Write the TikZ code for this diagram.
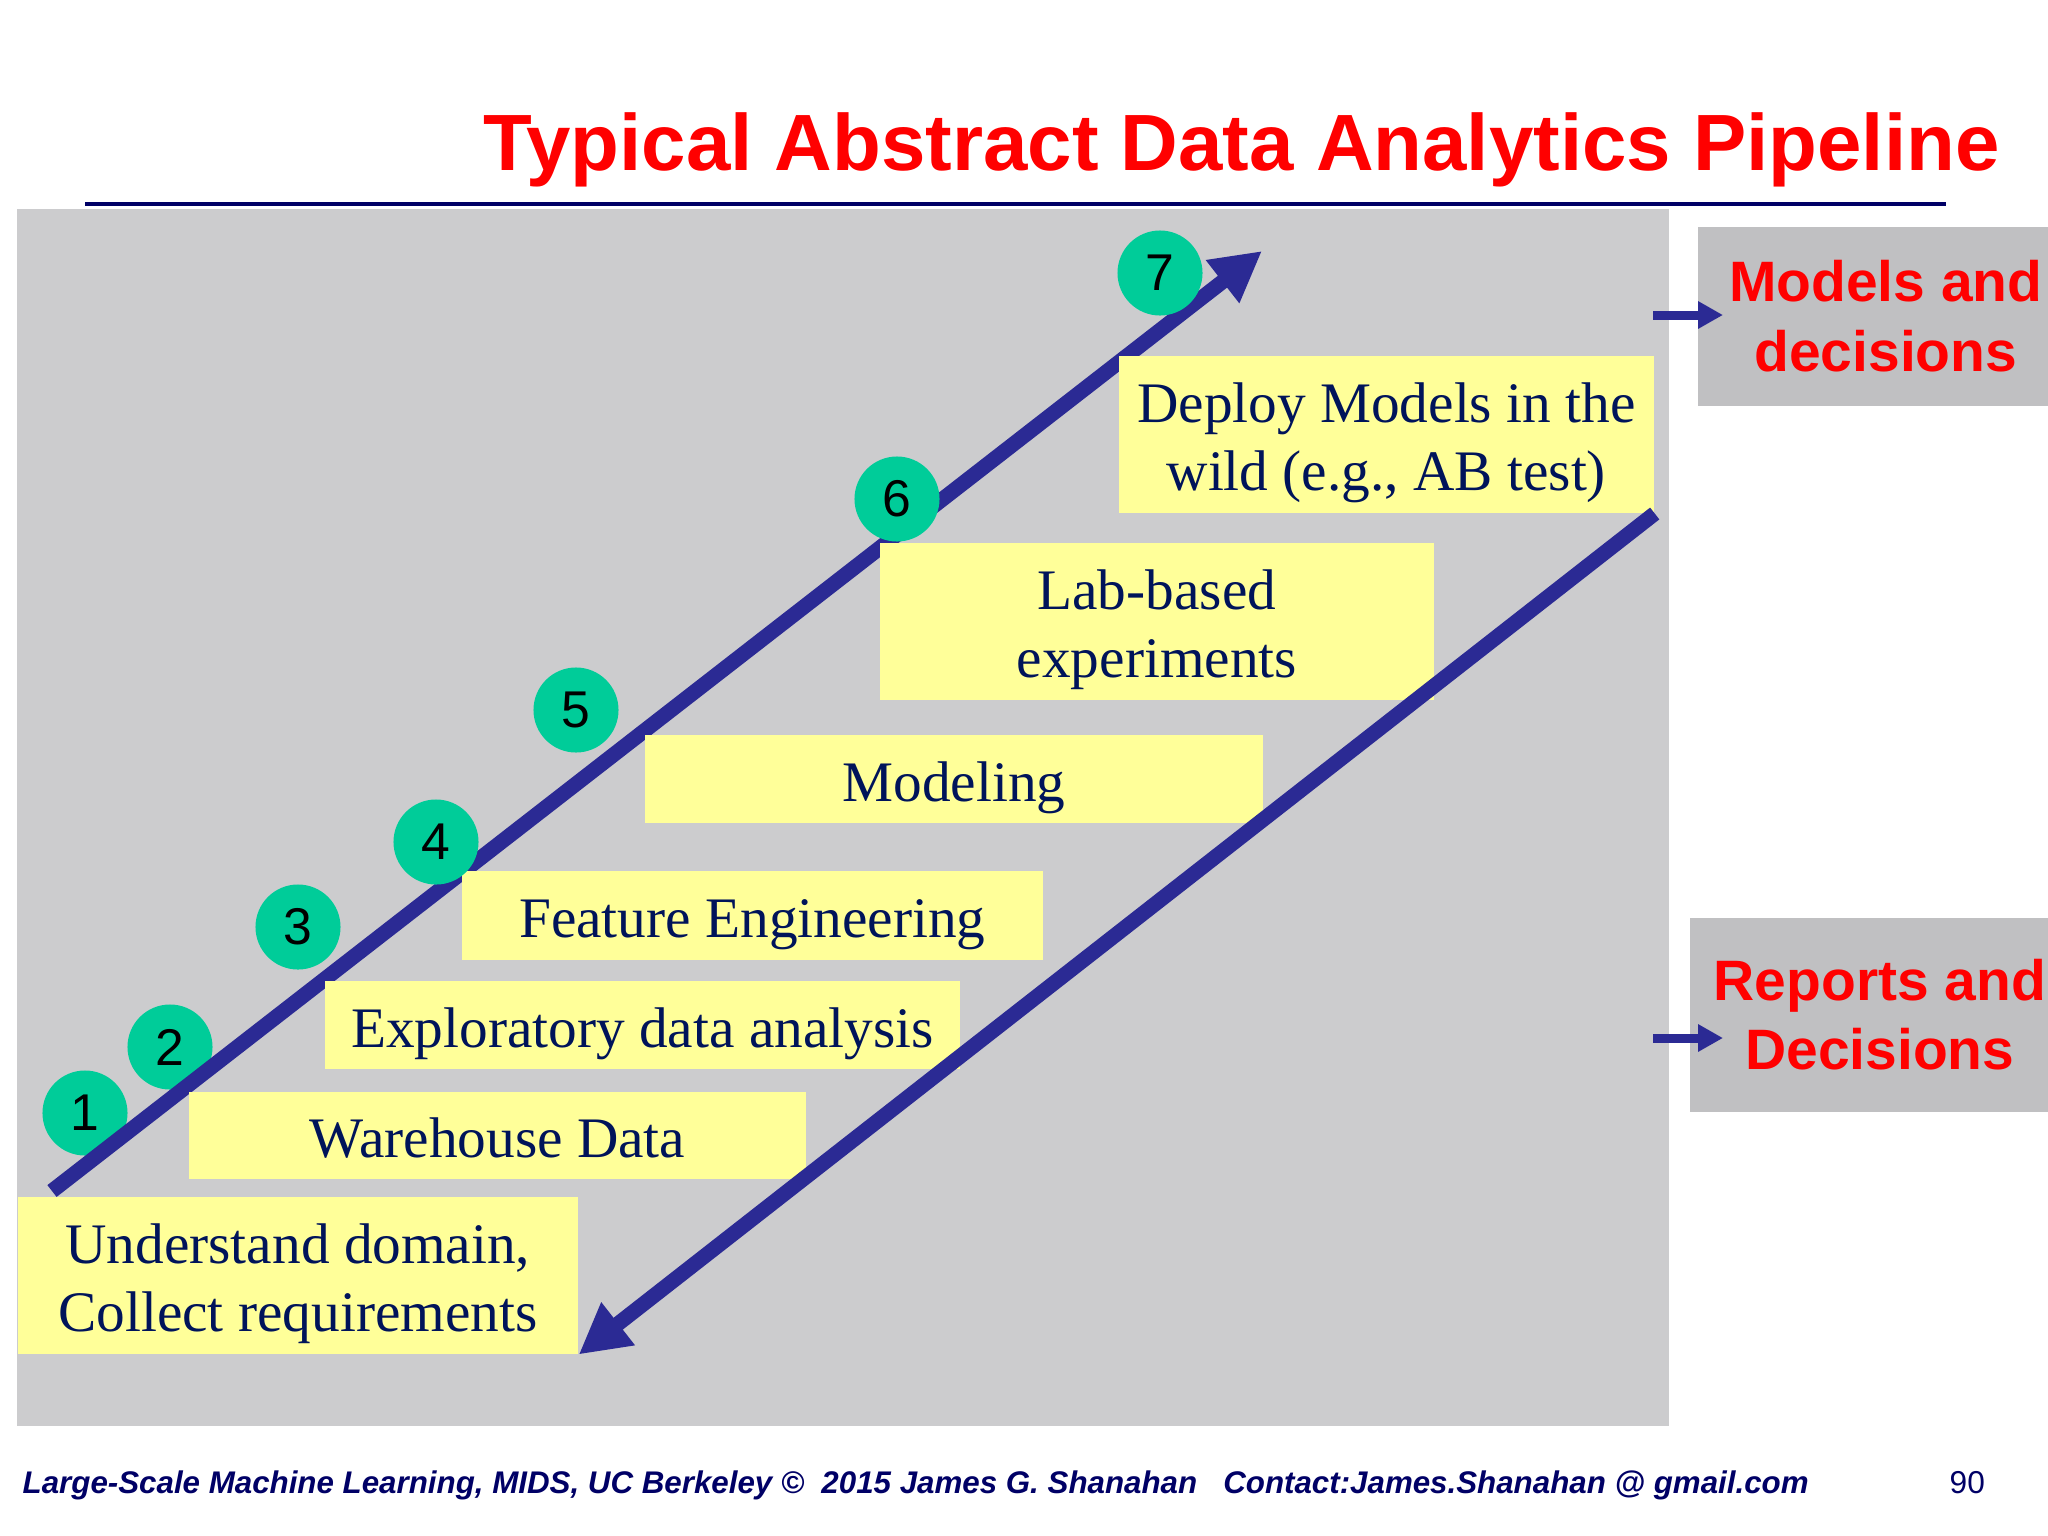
\documentclass[tikz,border=0pt]{standalone}
\usepackage{fontspec}
\setmainfont{Liberation Serif}
\newfontfamily\arialfont{Liberation Sans}
\usetikzlibrary{arrows.meta}
\definecolor{panelgray}{RGB}{204,204,206}
\definecolor{outgray}{RGB}{192,192,194}
\definecolor{stepyellow}{RGB}{255,255,153}
\definecolor{stepgreen}{RGB}{0,204,153}
\definecolor{flowblue}{RGB}{43,42,148}
\definecolor{textnavy}{RGB}{0,20,90}
\definecolor{footnavy}{RGB}{0,0,102}
\definecolor{titlered}{RGB}{255,0,0}
\newcommand{\steptext}[1]{\raisebox{-0.09cm}[\height][\depth]{\begin{tabular}{@{}c@{}}#1\end{tabular}}}

\begin{document}
\begin{tikzpicture}[x=0.01cm,y=-0.01cm]
            \tikzstyle{stepbox}=[fill=stepyellow, text=textnavy, anchor=north west, inner sep=0pt, font=\fontsize{16.3}{19.3}\selectfont]
            \tikzstyle{stepnum}=[circle, fill=stepgreen, minimum size=0.85cm, inner sep=0pt, font=\arialfont\fontsize{14.7}{16}\selectfont]
            \tikzstyle{flow}=[draw=flowblue, line width=0.15cm, -{Triangle[length=0.5cm,width=0.51cm]}]
            \tikzstyle{outbox}=[fill=outgray, text=titlered, anchor=north west, inner sep=0pt, align=center, font=\arialfont\bfseries\fontsize{16.2}{19.7}\selectfont]
            \tikzstyle{outarrow}=[draw=flowblue, line width=0.09cm, -{Triangle[length=0.25cm,width=0.26cm]}]
            \useasboundingbox (0,0) rectangle (2048,1536);
            \fill[white] (0,0) rectangle (2048,1536);
            \node[anchor=base west, inner sep=0pt, text=titlered, font=\arialfont\bfseries\fontsize{22.7}{27}\selectfont] (title) at (483,170) {Typical Abstract Data Analytics Pipeline};
            \draw[footnavy, line width=0.04cm] (85,204) -- (1946,204);
            \fill[panelgray] (17,209) rectangle (1669,1426);
            \node[stepnum] (n1) at (85,1113) {1};
            \node[stepnum] (n2) at (170,1047) {2};
            \coordinate (upstart) at (52,1191);
            \coordinate (uptip) at (1262,251);
            \draw[flow] (upstart) -- (uptip);
            \node[stepbox, minimum width=5.60cm, minimum height=1.57cm] (understand) at (17,1196) {\steptext{Understand domain,\\Collect requirements}};
            \node[stepbox, minimum width=6.17cm, minimum height=0.87cm] (warehouse) at (188,1091) {\steptext{Warehouse Data}};
            \node[stepbox, minimum width=6.35cm, minimum height=0.88cm] (explore) at (324,980) {\steptext{Exploratory data analysis}};
            \node[stepbox, minimum width=5.81cm, minimum height=0.89cm] (feature) at (461,870) {\steptext{Feature Engineering}};
            \node[stepbox, minimum width=6.18cm, minimum height=0.88cm] (modeling) at (644,734) {\steptext{Modeling}};
            \node[stepbox, minimum width=5.54cm, minimum height=1.57cm] (lab) at (879,542) {\steptext{Lab-based\\experiments}};
            \node[stepbox, minimum width=5.35cm, minimum height=1.57cm] (deploy) at (1118,355) {\steptext{Deploy Models in the\\wild (e.g., AB test)}};
            \node[stepnum] (n3) at (298,927) {3};
            \node[stepnum] (n4) at (436,842) {4};
            \node[stepnum] (n5) at (576,710) {5};
            \node[stepnum] (n6) at (897,499) {6};
            \node[stepnum] (n7) at (1160,273) {7};
            \draw[flow] (deploy.south east) -- (understand.south east);
            \node[outbox, minimum width=3.76cm, minimum height=1.79cm] (models) at (1697,226) {Models and\\decisions};
            \node[outbox, minimum width=3.80cm, minimum height=1.94cm] (reports) at (1689,917) {Reports and\\Decisions};
            \coordinate (mstart) at (1653,315);
            \coordinate (rstart) at (1653,1038);
            \draw[outarrow] (mstart) -- ([xshift=0.26cm]models.west |- mstart);
            \draw[outarrow] (rstart) -- ([xshift=0.34cm]reports.west |- rstart);
            \node[anchor=base west, inner sep=0pt, text=footnavy, font=\arialfont\bfseries\itshape\fontsize{8.9}{11}\selectfont] (footer) at (22,1493) {Large-Scale Machine Learning, MIDS, UC Berkeley ©\ \ 2015 James G. Shanahan\ \ \ Contact:James.Shanahan @ gmail.com};
            \node[anchor=base west, inner sep=0pt, text=footnavy, font=\arialfont\fontsize{9}{11}\selectfont] (pagenum) at (1949,1493) {90};
        \end{tikzpicture}
\end{document}
